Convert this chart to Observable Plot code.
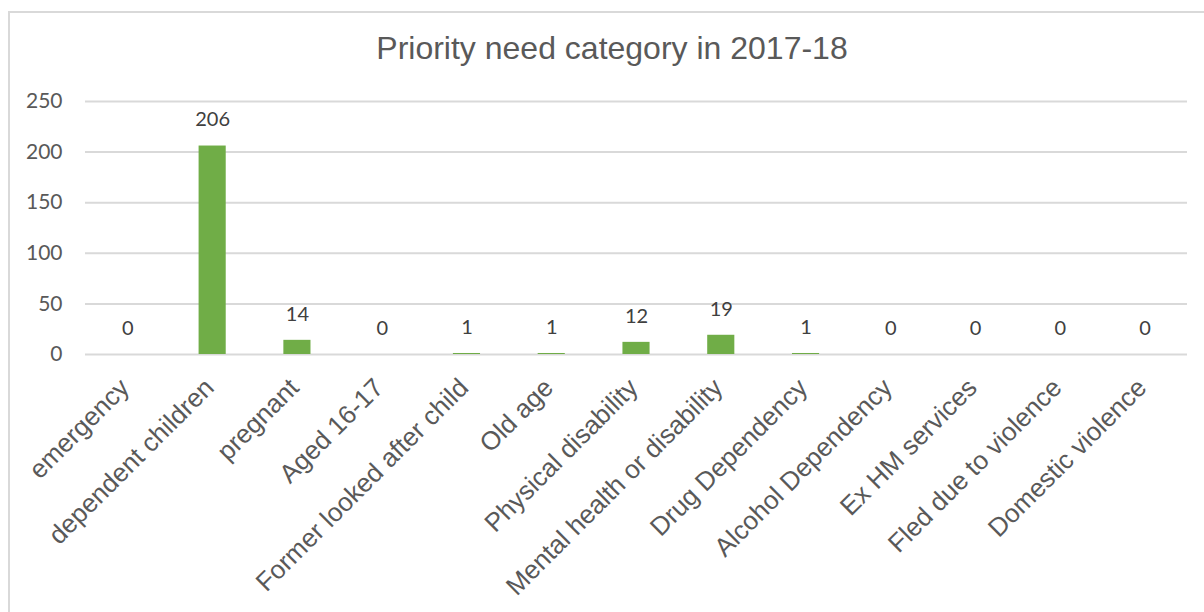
<!DOCTYPE html>
<html>
<head>
<meta charset="utf-8">
<script src="https://cdn.jsdelivr.net/npm/d3@7"></script>
<script src="https://cdn.jsdelivr.net/npm/@observablehq/plot@0.6"></script>
<style>
  html, body { margin: 0; padding: 0; background: #fff; }
  #wrap { position: relative; width: 1204px; height: 612px; overflow: hidden; }
  #frame { position: absolute; left: 8px; top: 11px; width: 1300px; height: 700px;
           border-left: 2px solid #d9d9d9; border-top: 2px solid #d9d9d9; }
  #title { position: absolute; left: 0; top: 30px; width: 1224px; text-align: center;
           font-family: "Liberation Sans", Arial, sans-serif; font-size: 32px; color: #595959; line-height: 36px; }
  #chart { position: absolute; left: 0; top: 80px; }
</style>
</head>
<body>
<div id="wrap">
  <div id="frame"></div>
  <div id="title">Priority need category in 2017-18</div>
  <div id="chart"></div>
</div>
<script>
const categories = ["emergency", "dependent children", "pregnant", "Aged 16-17", "Former looked after child",
  "Old age", "Physical disability", "Mental health or disability", "Drug Dependency", "Alcohol Dependency",
  "Ex HM services", "Fled due to violence", "Domestic violence"];
const values = [0, 206, 14, 0, 1, 1, 12, 19, 1, 0, 0, 0, 0];
const yTicks = [0, 50, 100, 150, 200, 250];

const data = categories.map((c, i) => ({category: c, value: values[i]}));

const chart = Plot.plot({
  width: 1204,
  height: 532,
  marginLeft: 85,
  marginRight: 17,
  marginTop: 21,
  marginBottom: 258,
  style: {background: "transparent"},
  x: {domain: categories, paddingInner: 0.68, paddingOuter: 0.34, round: false, label: null},
  y: {domain: [0, 250], label: null},
  marks: [
    Plot.gridY(yTicks, {stroke: "#d9d9d9", strokeOpacity: 1, strokeWidth: 2}),
    Plot.axisY(yTicks, {tickSize: 0, tickPadding: 23, fontSize: 21, fill: "#595959",
      fontFamily: "Lato, 'Open Sans', sans-serif", label: null}),
    Plot.axisX({tickSize: 0, tickPadding: 29, dx: -3, tickRotate: -45, fontSize: 26, fill: "#595959",
      fontFamily: "'Liberation Sans', Arial, sans-serif", label: null}),
    Plot.barY(data, {x: "category", y: "value", fill: "#70ad47"}),
    Plot.text(data, {x: "category", y: "value", text: d => String(d.value), dy: -26,
      fontSize: 20, fill: "#404040", fontFamily: "Lato, 'Open Sans', sans-serif"})
  ]
});
document.getElementById("chart").appendChild(chart);
</script>
</body>
</html>
